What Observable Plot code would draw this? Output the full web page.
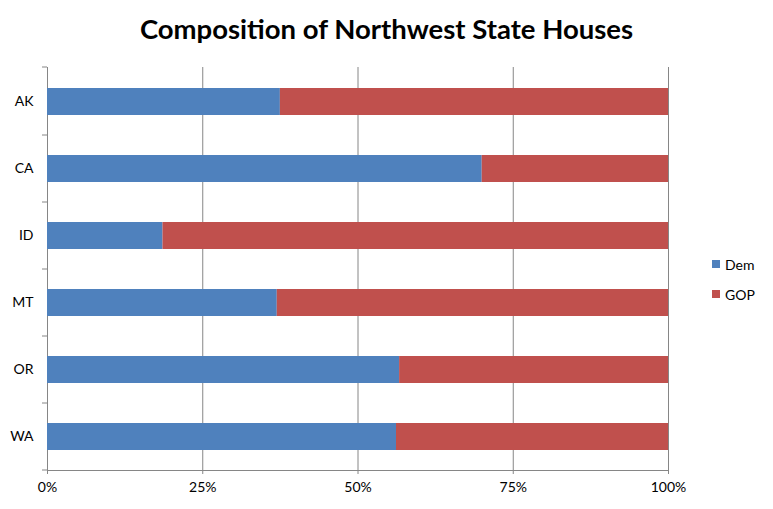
<!DOCTYPE html>
<html>
<head>
<meta charset="utf-8">
<script src="https://cdn.jsdelivr.net/npm/d3@7"></script>
<script src="https://cdn.jsdelivr.net/npm/@observablehq/plot@0.6"></script>
<style>
  html, body { margin: 0; padding: 0; background: #fff; }
  #wrap { position: relative; width: 773px; height: 509px; font-family: Lato, "Open Sans", sans-serif; }
  #title { height: 49px; line-height: 58px; text-align: center; font-weight: bold; font-size: 27.5px; color: #000; }
  #legend { position: absolute; left: 712px; top: 255px; font-size: 14px; color: #000; }
  .row { display: flex; align-items: center; height: 18px; margin-bottom: 12px; }
  .sw { width: 8px; height: 8px; margin-right: 5px; }
</style>
</head>
<body>
<div id="wrap">
  <div id="title">Composition of Northwest State Houses</div>
  <div id="chart"></div>
  <div id="legend"></div>
</div>
<script>
const states = ["AK", "CA", "ID", "MT", "OR", "WA"];
const parties = ["Dem", "GOP"];
const colors = ["#4F81BD", "#C0504D"];
const demPct = [37.5, 70.0, 18.6, 37.0, 56.7, 56.2];
const gopPct = [62.5, 30.0, 81.4, 63.0, 43.3, 43.8];
const xTicks = [0, 25, 50, 75, 100];

const rows = [];
states.forEach((s, i) => {
  rows.push({state: s, party: "Dem", value: demPct[i]});
  rows.push({state: s, party: "GOP", value: gopPct[i]});
});

const grey = "#868686";

function boundaryTicks(index, scales, values, dimensions) {
  const y = scales.y;
  const bw = y.bandwidth ? y.bandwidth() : 0;
  const centers = states.map(s => y(s) + bw / 2);
  const top = dimensions.marginTop;
  const bottom = dimensions.height - dimensions.marginBottom;
  const ys = [top, ...d3.pairs(centers).map(([a, b]) => (a + b) / 2), bottom];
  const g = d3.create("svg:g").attr("stroke", grey).attr("stroke-width", 1);
  g.selectAll("line").data(ys).join("line")
    .attr("x1", dimensions.marginLeft - 5).attr("x2", dimensions.marginLeft)
    .attr("y1", d => d).attr("y2", d => d);
  return g.node();
}

const chart = Plot.plot({
  width: 773,
  height: 460,
  marginTop: 18,
  marginBottom: 39,
  marginLeft: 47,
  marginRight: 105,
  style: {fontFamily: "Lato, 'Open Sans', sans-serif", fontSize: "14px", color: "#000", background: "#fff"},
  x: {domain: [0, 100], ticks: xTicks, tickFormat: d => d + "%"},
  y: {domain: states, paddingInner: 0.6, paddingOuter: 0.3},
  color: {domain: parties, range: colors},
  marks: [
    Plot.ruleX(xTicks, {stroke: grey, strokeWidth: 1, strokeOpacity: 1}),
    Plot.barX(rows, Plot.stackX({y: "state", x: "value", fill: "party", z: "party", order: parties})),
    Plot.frame({anchor: "bottom", stroke: grey, strokeOpacity: 1}),
    Plot.axisX({ticks: xTicks, tickFormat: d => d + "%", tickSize: 4, tickPadding: 8, stroke: grey, strokeOpacity: 1, fill: "#000", fontSize: 14, label: null}),
    Plot.axisY({tickSize: 0, tickPadding: 14, fill: "#000", fontSize: 14, label: null}),
    boundaryTicks
  ]
});
document.getElementById("chart").appendChild(chart);

const legend = document.getElementById("legend");
parties.forEach((p, i) => {
  const row = document.createElement("div");
  row.className = "row";
  const sw = document.createElement("div");
  sw.className = "sw";
  sw.style.background = colors[i];
  const t = document.createElement("span");
  t.textContent = p;
  row.appendChild(sw);
  row.appendChild(t);
  legend.appendChild(row);
});
</script>
</body>
</html>
